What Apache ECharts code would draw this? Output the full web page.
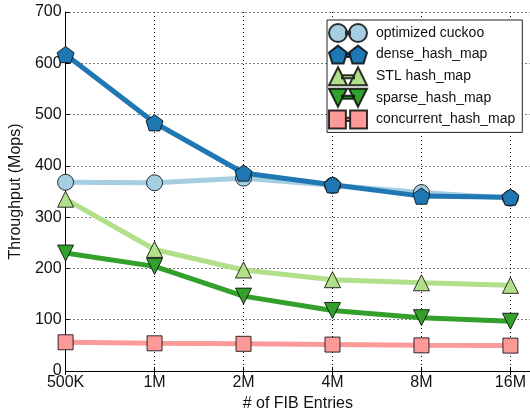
<!DOCTYPE html>
<html>
<head>
<meta charset="utf-8">
<script src="https://cdn.jsdelivr.net/npm/echarts@6/dist/echarts.min.js"></script>
<style>html,body{margin:0;padding:0;background:#fff}#c{width:530px;height:417px}</style>
</head>
<body>
<div id="c"></div>
<script>
var categories = ['500K', '1M', '2M', '4M', '8M', '16M'];
var seriesNames = ['optimized cuckoo', 'dense_hash_map', 'STL hash_map', 'sparse_hash_map', 'concurrent_hash_map'];
var optimizedCuckoo = [368, 367, 376, 362, 348, 337];
var denseHashMap = [617, 484, 386, 363, 341, 339];
var stlHashMap = [335, 237, 197, 178, 172, 167];
var sparseHashMap = [230, 204, 146, 118, 104, 97];
var concurrentHashMap = [56, 54, 53, 51.5, 50, 49.5];
var yTicks = [0, 100, 200, 300, 400, 500, 600, 700];

var colors = ['#a6cee3', '#1f78b4', '#b2df8a', '#33a02c', '#fb9a99'];
var pent = 'path://M9,0 L18,6.6 L14.6,17.2 L3.4,17.2 L0,6.6 Z';
var symbols = ['circle', pent, 'triangle', 'triangle', 'rect'];
var rotates = [0, 0, 0, 180, 0];
var sizes = [16, 17, 16, 16, 15];
var icons = [
  'path://M0,9 A9,9 0 1 1 18,9 A9,9 0 1 1 0,9 Z M17,7.5 L21,7.5 L21,10.5 L17,10.5 Z M20,9 A9,9 0 1 1 38,9 A9,9 0 1 1 20,9 Z',
  'path://M9,0 L18,6.6 L14.6,17.2 L3.4,17.2 L0,6.6 Z M17,8 L21,8 L21,11 L17,11 Z M29,0 L38,6.6 L34.6,17.2 L23.4,17.2 L20,6.6 Z',
  'path://M9,0 L18,18 L0,18 Z M13,8 L25,8 L25,11 L13,11 Z M29,0 L38,18 L20,18 Z',
  'path://M0,0 L18,0 L9,18 Z M13,7 L25,7 L25,10 L13,10 Z M20,0 L38,0 L29,18 Z',
  'path://M1,1 L17,1 L17,17 L1,17 Z M17,7.5 L21,7.5 L21,10.5 L17,10.5 Z M21,1 L37,1 L37,17 L21,17 Z'
];
var values = [optimizedCuckoo, denseHashMap, stlHashMap, sparseHashMap, concurrentHashMap];
var FONT = "'Liberation Sans', Arial, sans-serif";

var series = seriesNames.map(function (name, i) {
  return {
    name: name,
    type: 'line',
    xAxisIndex: 0,
    data: values[i].map(function (v, j) { return [j, v]; }),
    symbol: symbols[i],
    symbolRotate: rotates[i],
    symbolSize: sizes[i],
    symbolKeepAspect: true,
    showAllSymbol: true,
    clip: true,
    lineStyle: { color: colors[i], width: 5 },
    itemStyle: { color: colors[i], borderColor: 'rgba(0,0,0,0.8)', borderWidth: 1, opacity: 1 },
    emphasis: { disabled: true },
    animation: false
  };
});

var chart = echarts.init(document.getElementById('c'), null, { renderer: 'canvas' });
chart.setOption({
  animation: false,
  backgroundColor: '#fff',
  textStyle: { fontFamily: FONT },
  grid: { left: 64, right: 0, top: 12, bottom: 42 },
  legend: {
    data: seriesNames.map(function (n, i) { return { name: n, icon: icons[i] }; }),
    orient: 'vertical',
    left: 327,
    top: 20,
    width: 198,
    itemWidth: 38,
    itemHeight: 18,
    itemGap: 1.6,
    padding: [3, 7, 3, 1],
    backgroundColor: '#fff',
    borderColor: '#222',
    borderWidth: 1,
    borderRadius: 0,
    symbolKeepAspect: false,
    selectedMode: false,
    textStyle: { fontFamily: FONT, fontSize: 14, lineHeight: 16, color: '#111', padding: [0, 0, 0, 4] }
  },
  xAxis: [{
    type: 'value',
    min: 0,
    max: 5.22,
    interval: 1,
    name: '# of FIB Entries',
    nameLocation: 'middle',
    nameGap: 25,
    nameTextStyle: { fontFamily: FONT, fontSize: 16, color: '#111' },
    axisLine: { show: true, onZero: false, lineStyle: { color: '#000', width: 1 } },
    axisTick: { show: true, inside: true, length: 4, lineStyle: { color: '#000' } },
    axisLabel: {
      fontFamily: FONT, fontSize: 16, color: '#111', margin: 4,
      showMaxLabel: false,
      formatter: function (v) { return (Math.abs(v - Math.round(v)) < 1e-6 && categories[Math.round(v)]) ? categories[Math.round(v)] : ''; }
    },
    splitLine: { show: true, lineStyle: { color: '#000', width: 1, type: [1, 3] } }
  }, {
    type: 'value',
    position: 'top',
    min: 0,
    max: 5.22,
    interval: 1,
    axisLine: { show: false },
    axisTick: { show: true, inside: true, length: 4, lineStyle: { color: '#000' } },
    axisLabel: { show: false },
    splitLine: { show: false }
  }],
  yAxis: {
    type: 'value',
    min: yTicks[0],
    max: yTicks[yTicks.length - 1],
    interval: yTicks[1] - yTicks[0],
    name: 'Throughput (Mops)',
    nameLocation: 'middle',
    nameGap: 34,
    nameTextStyle: { fontFamily: FONT, fontSize: 16, color: '#111' },
    axisLine: { show: true, lineStyle: { color: '#000', width: 1 } },
    axisTick: { show: true, inside: true, length: 4, lineStyle: { color: '#000' } },
    axisLabel: { fontFamily: FONT, fontSize: 16, color: '#111', margin: 4 },
    splitLine: { show: true, lineStyle: { color: '#000', width: 1, type: [1, 3] } }
  },
  series: series
});
</script>
</body>
</html>
